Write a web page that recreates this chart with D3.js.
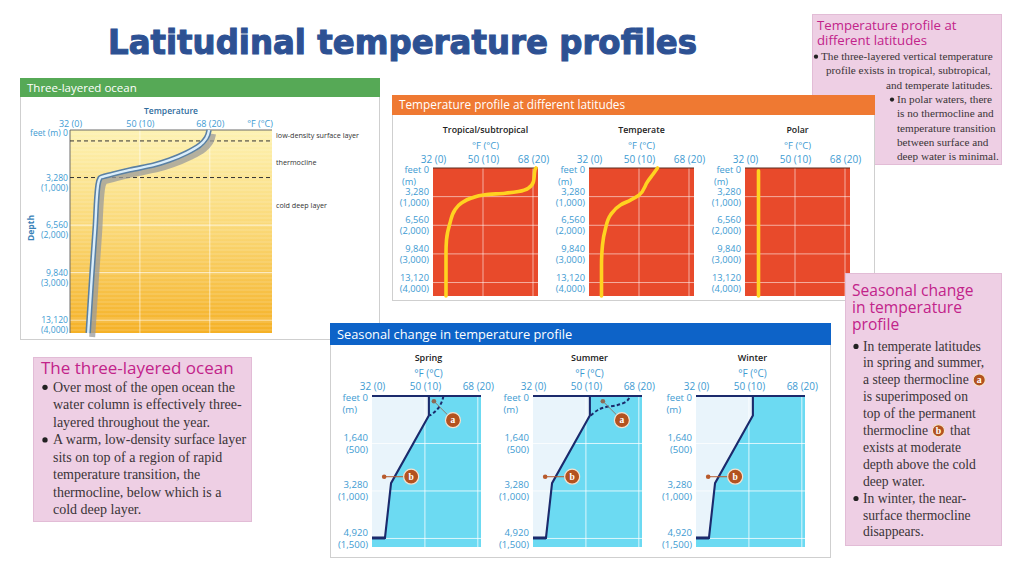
<!DOCTYPE html>
<html>
<head>
<meta charset="utf-8">
<script src="https://cdn.jsdelivr.net/npm/d3@7"></script>
<style>
  body { margin: 0; background: #fff; }
  svg { display: block; }
  text { white-space: pre; }
</style>
</head>
<body>
<svg id="slide" width="1024" height="576"></svg>
<script>
// temperature ticks, in °C, labelled as °F (°C)
const tempTicksC = [0, 10, 20];
const tempTickLabels = ["32 (0)", "50 (10)", "68 (20)"];

// depth ticks (m) for the deep profiles
const deepTicksM = [0, 1000, 2000, 3000, 4000];
const deepTickFeet = ["0", "3,280", "6,560", "9,840", "13,120"];
const deepTickMetres = ["(m)", "(1,000)", "(2,000)", "(3,000)", "(4,000)"];

// depth ticks (m) for the seasonal profiles
const shallowTicksM = [0, 500, 1000, 1500];
const shallowTickFeet = ["0", "1,640", "3,280", "4,920"];
const shallowTickMetres = ["(m)", "(500)", "(1,000)", "(1,500)"];

// profiles are [°C, depth m]
const threeLayerProfile = [[19.9, 0], [19.5, 170], [18.6, 316], [16.7, 480], [14.3, 630], [11.9, 740],
  [8.6, 840], [6.1, 930], [4.3, 1010], [4.0, 1160], [3.6, 2060], [3.1, 3120], [2.6, 4270]];
const layerBoundsM = [230, 1000];
const layerNames = ["low-density surface layer", "thermocline", "cold deep layer"];
const layerLabelDepthM = [120, 680, 1580];

const latitudeNames = ["Tropical/subtropical", "Temperate", "Polar"];
const tropicalProfile = [[20.6, 0], [20.4, 60], [20.1, 470], [19.1, 700], [17.1, 820], [14.4, 880], [10.4, 935],
  [7.7, 1050], [5.7, 1225], [4.4, 1460], [3.4, 1920], [2.7, 2510], [2.6, 2970], [2.6, 4470]];
const temperateProfile = [[13.7, 0], [12.8, 220], [11.7, 480], [10.0, 945], [8.3, 1120], [6.3, 1290],
  [4.3, 1640], [3.3, 2110], [2.7, 2690], [2.5, 3390], [2.5, 4470]];
const polarProfile = [[2.7, 100], [2.7, 4470]];

const seasonNames = ["Spring", "Summer", "Winter"];
const permanentProfile = [[10.75, 0], [10.75, 205], [3.6, 918], [2.45, 1495], [0, 1495]];
const springSurface = [[13.5, 0], [13.2, 60], [12.5, 130], [11.6, 180], [10.9, 205]];
const summerSurface = [[10.9, 205], [12.2, 150], [13.5, 120], [16.0, 95], [17.6, 60], [18.2, 20], [18.3, 0]];
const seasonSurfaces = [springSurface, summerSurface, null];
// callouts: [dot °C, dot m, badge °C, badge m]
const calloutA = [[11.7, 55, 15.3, 255], [13.2, 55, 16.8, 255], null];
const calloutB = [2.3, 850, 7.4, 850];

const svg = d3.select("#slide");
const tickFont = "'Open Sans', sans-serif";
const headFont = "'Open Sans', sans-serif";
const serifFont = "'Liberation Serif', serif";
const tickBlue = "#3e9bd2";
const magenta = "#c2238a";
const bodyInk = "#3a3437";
const pinkFill = "#eecfe4";
const navy = "#1b2a6c";

// ---------- helpers ----------
function tempAxis(g, x, yTop, pad, size) {
  const ax = g.append("g").attr("transform", `translate(0,${yTop})`)
    .call(d3.axisTop(x).tickValues(tempTicksC).tickSize(0).tickPadding(pad)
      .tickFormat((d, i) => tempTickLabels[i]));
  ax.select(".domain").remove();
  ax.attr("font-family", tickFont).attr("font-size", size).style("color", tickBlue);
  return ax;
}

function depthAxis(g, y, xLeft, ticks, feet, metres, o) {
  const ax = g.append("g").attr("transform", `translate(${xLeft},0)`)
    .call(d3.axisLeft(y).tickValues(ticks).tickSize(0).tickPadding(o.pad).tickFormat(() => ""));
  ax.select(".domain").remove();
  ax.attr("font-family", tickFont).attr("font-size", o.size).style("color", tickBlue);
  ax.selectAll(".tick text").attr("dy", null).each(function (d, i) {
    const t = d3.select(this);
    if (i === 0) {
      t.append("tspan").attr("x", -o.pad).attr("y", o.top[0]).text(o.topLabel || "feet " + feet[0]);
      if (o.top[1] != null) t.append("tspan").attr("x", -o.pad - o.top[2]).attr("y", o.top[1]).text(metres[0]);
    } else {
      t.append("tspan").attr("x", -o.pad).attr("y", o.rows[0]).text(feet[i]);
      t.append("tspan").attr("x", -o.pad).attr("y", o.rows[1]).text(metres[i]);
    }
  });
}

function badge(g, cx, cy, r, letter, fs) {
  g.append("circle").attr("cx", cx).attr("cy", cy).attr("r", r)
    .attr("fill", "#b3521f").attr("stroke", "#f5e2cf").attr("stroke-width", 1.2);
  g.append("text").attr("x", cx).attr("y", cy + fs * 0.33).attr("text-anchor", "middle")
    .attr("font-family", serifFont).attr("font-weight", "bold").attr("font-size", fs)
    .attr("fill", "#fff").text(letter);
}

function panel(x, y, w, h, headH, headColor, title, fs) {
  const g = svg.append("g");
  g.append("rect").attr("x", x + 0.5).attr("y", y + 0.5).attr("width", w - 1).attr("height", h - 1)
    .attr("fill", "#fff").attr("stroke", "#cfcfcf");
  g.append("rect").attr("x", x).attr("y", y).attr("width", w).attr("height", headH).attr("fill", headColor);
  g.append("text").attr("x", x + 7).attr("y", y + headH / 2 + fs * 0.36)
    .attr("font-family", headFont).attr("font-size", fs).attr("fill", "#fff").text(title);
  return g;
}

function note(x, y, w, h, titleLines, t, lines, b) {
  const g = svg.append("g");
  g.append("rect").attr("x", x + 0.5).attr("y", y + 0.5).attr("width", w - 1).attr("height", h - 1)
    .attr("fill", pinkFill).attr("stroke", "#e2bcd6");
  titleLines.forEach((s, i) => {
    g.append("text").attr("x", t.x).attr("y", t.y0 + i * t.dy)
      .attr("font-family", headFont).attr("font-size", t.size).attr("fill", magenta).text(s);
  });
  lines.forEach((ln, i) => {
    const yb = b.y0 + i * b.dy;
    let cx = ln.x;
    if (ln.bullet) {
      g.append("circle").attr("cx", cx - b.gap).attr("cy", yb - b.size * 0.3)
        .attr("r", b.size * 0.19).attr("fill", "#222");
    }
    ln.parts.forEach(p => {
      if (typeof p === "string") {
        const tx = g.append("text").attr("x", cx).attr("y", yb)
          .attr("font-family", serifFont).attr("font-size", b.size).attr("fill", bodyInk).text(p);
        cx += tx.node().getComputedTextLength();
      } else {
        const r = b.size * 0.45;
        badge(g, cx + r + 1, yb - b.size * 0.32, r, p.badge, b.size * 0.72);
        cx += 2 * r + 3;
      }
    });
  });
}

// ---------- slide title ----------
svg.append("text").attr("x", 108).attr("y", 54)
  .attr("font-family", "'DejaVu Sans', sans-serif").attr("font-weight", "bold").attr("font-size", 33)
  .attr("fill", "#2d5193").attr("stroke", "#2d5193").attr("stroke-width", 1.1)
  .attr("textLength", 589).attr("lengthAdjust", "spacingAndGlyphs")
  .text("Latitudinal temperature profiles");

// ---------- note behind the latitude panel ----------
note(812, 14, 190, 151, ["Temperature profile at", "different latitudes"],
  {x: 817, y0: 30, dy: 15, size: 13.2},
  [
    {x: 821, bullet: true, parts: ["The three-layered vertical temperature"]},
    {x: 826, parts: ["profile exists in tropical, subtropical,"]},
    {x: 886, parts: ["and temperate latitudes."]},
    {x: 897, bullet: true, parts: ["In polar waters, there"]},
    {x: 897, parts: ["is no thermocline and"]},
    {x: 897, parts: ["temperature transition"]},
    {x: 897, parts: ["between surface and"]},
    {x: 897, parts: ["deep water is minimal."]}
  ],
  {y0: 60, dy: 14.3, size: 11.2, gap: 5});

// ---------- three-layered ocean ----------
const p1 = panel(20, 78, 360, 262, 19, "#56a956", "Three-layered ocean", 11.5);
const x1 = d3.scaleLinear().domain([0, 28.9]).range([70, 272]);
const y1 = d3.scaleLinear().domain([0, 4270]).range([130, 333]);

const defs = svg.append("defs");
const grad = defs.append("linearGradient").attr("id", "warm").attr("x1", 0).attr("y1", 0).attr("x2", 0).attr("y2", 1);
grad.append("stop").attr("offset", 0).attr("stop-color", "#fdf2b2");
grad.append("stop").attr("offset", 0.5).attr("stop-color", "#fad774");
grad.append("stop").attr("offset", 1).attr("stop-color", "#f5b126");

p1.append("rect").attr("x", x1.range()[0]).attr("y", y1.range()[0])
  .attr("width", x1.range()[1] - x1.range()[0]).attr("height", y1.range()[1] - y1.range()[0])
  .attr("fill", "url(#warm)");
// faint horizontal banding
p1.selectAll(".band").data(d3.range(y1.range()[0] + 4, y1.range()[1], 4)).join("line")
  .attr("x1", x1.range()[0]).attr("x2", x1.range()[1]).attr("y1", d => d).attr("y2", d => d)
  .attr("stroke", "#fff").attr("stroke-opacity", 0.22).attr("stroke-width", 1);
p1.selectAll(".vgrid").data(tempTicksC.slice(1)).join("line")
  .attr("x1", d => x1(d)).attr("x2", d => x1(d)).attr("y1", y1.range()[0]).attr("y2", y1.range()[1])
  .attr("stroke", "#fff").attr("stroke-opacity", 0.6);
p1.selectAll(".hgrid").data(deepTicksM.slice(2)).join("line")
  .attr("x1", x1.range()[0]).attr("x2", x1.range()[1]).attr("y1", d => y1(d)).attr("y2", d => y1(d))
  .attr("stroke", "#fff").attr("stroke-opacity", 0.7);
p1.append("line").attr("x1", x1.range()[0]).attr("x2", x1.range()[1]).attr("y1", 130).attr("y2", 130)
  .attr("stroke", "#6b6b6b");
p1.append("line").attr("x1", 70).attr("x2", 70).attr("y1", y1.range()[0]).attr("y2", y1.range()[1])
  .attr("stroke", "#6b6b6b");
p1.selectAll(".bound").data(layerBoundsM).join("line")
  .attr("x1", x1.range()[0]).attr("x2", x1.range()[1]).attr("y1", d => y1(d)).attr("y2", d => y1(d))
  .attr("stroke", "#333").attr("stroke-dasharray", "4,3");

const tube = d3.line().x(d => x1(d[0])).y(d => y1(d[1])).curve(d3.curveMonotoneY);
p1.append("path").attr("d", tube(threeLayerProfile)).attr("transform", "translate(4,4)")
  .attr("fill", "none").attr("stroke", "#9b9b9b").attr("stroke-opacity", 0.75).attr("stroke-width", 6);
p1.append("path").attr("d", tube(threeLayerProfile))
  .attr("fill", "none").attr("stroke", "#5a80a3").attr("stroke-width", 5.5);
p1.append("path").attr("d", tube(threeLayerProfile))
  .attr("fill", "none").attr("stroke", "#dbeefa").attr("stroke-width", 2.4);

tempAxis(p1, x1, 130, 3, 9);
p1.append("text").attr("x", 260).attr("y", 127).attr("text-anchor", "middle")
  .attr("font-family", tickFont).attr("font-size", 9).attr("fill", tickBlue).text("°F (°C)");
p1.append("text").attr("x", 171).attr("y", 114).attr("text-anchor", "middle")
  .attr("font-family", tickFont).attr("font-weight", 600).attr("font-size", 8.5).attr("fill", "#2f6c9d")
  .text("Temperature");
depthAxis(p1, y1, 70, deepTicksM, deepTickFeet, deepTickMetres,
  {pad: 2, size: 8.6, rows: [2.5, 12.5], top: [5.5, null], topLabel: "feet (m) 0"});
p1.append("text").attr("transform", "translate(34,228) rotate(-90)").attr("text-anchor", "middle")
  .attr("font-family", tickFont).attr("font-weight", 700).attr("font-size", 8.5).attr("fill", "#3a82b8")
  .text("Depth");
p1.selectAll(".layer").data(layerNames).join("text")
  .attr("x", 276).attr("y", (d, i) => y1(layerLabelDepthM[i]) + 2.5)
  .attr("font-family", tickFont).attr("font-size", 7.2).attr("fill", "#333").text(d => d);

// ---------- temperature profile at different latitudes ----------
const p2 = panel(392, 95, 483, 206, 20, "#ef7932", "Temperature profile at different latitudes", 11.8);
const latProfiles = [tropicalProfile, temperateProfile, polarProfile];
const latLeft = [433, 589, 745];

latitudeNames.forEach((name, k) => {
  const x = d3.scaleLinear().domain([0, 21]).range([latLeft[k], latLeft[k] + 105]);
  const y = d3.scaleLinear().domain([0, 4470]).range([168, 296]);
  const [xa, xb] = x.range(), [ya, yb] = y.range();
  const g = p2.append("g");
  g.append("rect").attr("x", xa).attr("y", ya).attr("width", xb - xa).attr("height", yb - ya).attr("fill", "#e84a2b");
  g.selectAll(".vg").data(tempTicksC.slice(1)).join("line")
    .attr("x1", d => x(d)).attr("x2", d => x(d)).attr("y1", ya).attr("y2", yb)
    .attr("stroke", "#fff").attr("stroke-opacity", 0.7).attr("stroke-width", 0.8);
  g.selectAll(".hg").data(deepTicksM.slice(1)).join("line")
    .attr("x1", xa).attr("x2", xb).attr("y1", d => y(d)).attr("y2", d => y(d))
    .attr("stroke", "#fff").attr("stroke-opacity", 0.7).attr("stroke-width", 0.8);
  g.append("line").attr("x1", xa).attr("x2", xb).attr("y1", ya).attr("y2", ya).attr("stroke", "#5b2a1f");
  const line = d3.line().x(d => x(d[0])).y(d => y(d[1])).curve(d3.curveMonotoneY);
  g.append("path").attr("d", line(latProfiles[k])).attr("fill", "none")
    .attr("stroke", "#ffd320").attr("stroke-width", 3.6).attr("stroke-linecap", "round");

  const mid = (xa + xb) / 2;
  g.append("text").attr("x", mid).attr("y", 133).attr("text-anchor", "middle")
    .attr("font-family", tickFont).attr("font-weight", 600).attr("font-size", 8.8).attr("fill", "#222").text(name);
  g.append("text").attr("x", mid).attr("y", 148.5).attr("text-anchor", "middle")
    .attr("font-family", tickFont).attr("font-size", 9.5).attr("fill", tickBlue).text("°F (°C)");
  tempAxis(g, x, ya, 5, 10);
  depthAxis(g, y, xa, deepTicksM, deepTickFeet, deepTickMetres,
    {pad: 4, size: 9.3, rows: [-2.5, 8.5], top: [4.5, 16, 13]});
});

// ---------- seasonal change ----------
const p3 = panel(330, 323, 501, 235, 22, "#0d63c8", "Seasonal change in temperature profile", 12.8);
const seasonLeft = [372, 533, 696];

seasonNames.forEach((name, k) => {
  const x = d3.scaleLinear().domain([0, 20.6]).range([seasonLeft[k], seasonLeft[k] + 109]);
  const y = d3.scaleLinear().domain([0, 1590]).range([396, 547]);
  const [xa, xb] = x.range(), [ya, yb] = y.range();
  const g = p3.append("g");
  const line = d3.line().x(d => x(d[0])).y(d => y(d[1]));
  g.append("rect").attr("x", xa).attr("y", ya).attr("width", xb - xa).attr("height", yb - ya).attr("fill", "#6cdaf2");
  g.append("path").attr("d", line([[0, 0], ...permanentProfile])).attr("fill", "#e9f4fb");
  g.selectAll(".vg").data(tempTicksC.slice(1)).join("line")
    .attr("x1", d => x(d)).attr("x2", d => x(d)).attr("y1", ya).attr("y2", yb)
    .attr("stroke", "#fff").attr("stroke-opacity", 0.85).attr("stroke-width", 0.9);
  g.selectAll(".hg").data(shallowTicksM.slice(1)).join("line")
    .attr("x1", xa).attr("x2", xb).attr("y1", d => y(d)).attr("y2", d => y(d))
    .attr("stroke", "#fff").attr("stroke-opacity", 0.85).attr("stroke-width", 0.9);
  g.append("line").attr("x1", xa).attr("x2", xb).attr("y1", ya).attr("y2", ya)
    .attr("stroke", navy).attr("stroke-width", 1.8);
  g.append("path").attr("d", line(permanentProfile)).attr("fill", "none")
    .attr("stroke", navy).attr("stroke-width", 2.1);
  g.append("path").attr("d", line(permanentProfile.slice(-2))).attr("fill", "none")
    .attr("stroke", navy).attr("stroke-width", 3);
  if (seasonSurfaces[k]) {
    const dashed = d3.line().x(d => x(d[0])).y(d => y(d[1])).curve(d3.curveCatmullRom);
    g.append("path").attr("d", dashed(seasonSurfaces[k])).attr("fill", "none")
      .attr("stroke", navy).attr("stroke-width", 2).attr("stroke-dasharray", "3.5,2.2");
  }
  // callouts
  const a = calloutA[k];
  if (a) {
    g.append("line").attr("x1", x(a[0])).attr("y1", y(a[1])).attr("x2", x(a[2])).attr("y2", y(a[3]))
      .attr("stroke", "#8c7a6e").attr("stroke-width", 1);
    g.append("circle").attr("cx", x(a[0])).attr("cy", y(a[1])).attr("r", 2.3).attr("fill", "#8c6a55");
    badge(g, x(a[2]), y(a[3]), 7.5, "a", 9.5);
  }
  const b = calloutB;
  g.append("line").attr("x1", x(b[0])).attr("y1", y(b[1])).attr("x2", x(b[2])).attr("y2", y(b[3]))
    .attr("stroke", "#b85a2c").attr("stroke-width", 1);
  g.append("circle").attr("cx", x(b[0])).attr("cy", y(b[1])).attr("r", 2.3).attr("fill", "#b85a2c");
  badge(g, x(b[2]), y(b[3]), 7.5, "b", 9.5);

  const mid = (xa + xb) / 2 + 2;
  g.append("text").attr("x", mid).attr("y", 361).attr("text-anchor", "middle")
    .attr("font-family", tickFont).attr("font-weight", 600).attr("font-size", 9).attr("fill", "#222").text(name);
  g.append("text").attr("x", mid).attr("y", 376.5).attr("text-anchor", "middle")
    .attr("font-family", tickFont).attr("font-size", 10).attr("fill", tickBlue).text("°F (°C)");
  tempAxis(g, x, ya, 6, 10);
  depthAxis(g, y, xa, shallowTicksM, shallowTickFeet, shallowTickMetres,
    {pad: 4, size: 9.6, rows: [-3, 9], top: [4.5, 16, 11]});
});

// ---------- notes ----------
note(33, 357, 219, 165, ["The three-layered ocean"],
  {x: 41, y0: 374, dy: 17, size: 17},
  [
    {x: 53, bullet: true, parts: ["Over most of the open ocean the"]},
    {x: 53, parts: ["water column is effectively three-"]},
    {x: 53, parts: ["layered throughout the year."]},
    {x: 53, bullet: true, parts: ["A warm, low-density surface layer"]},
    {x: 53, parts: ["sits on top of a region of rapid"]},
    {x: 53, parts: ["temperature transition, the"]},
    {x: 53, parts: ["thermocline, below which is a"]},
    {x: 53, parts: ["cold deep layer."]}
  ],
  {y0: 391.5, dy: 17.55, size: 14, gap: 8});

note(845, 273, 157, 273, ["Seasonal change", "in temperature", "profile"],
  {x: 852, y0: 296, dy: 17, size: 15.6},
  [
    {x: 863, bullet: true, parts: ["In temperate latitudes"]},
    {x: 863, parts: ["in spring and summer,"]},
    {x: 863, parts: ["a steep thermocline ", {badge: "a"}]},
    {x: 863, parts: ["is superimposed on"]},
    {x: 863, parts: ["top of the permanent"]},
    {x: 863, parts: ["thermocline ", {badge: "b"}, " that"]},
    {x: 863, parts: ["exists at moderate"]},
    {x: 863, parts: ["depth above the cold"]},
    {x: 863, parts: ["deep water."]},
    {x: 863, bullet: true, parts: ["In winter, the near-"]},
    {x: 863, parts: ["surface thermocline"]},
    {x: 863, parts: ["disappears."]}
  ],
  {y0: 350.5, dy: 16.9, size: 13.6, gap: 7});
</script>
</body>
</html>
